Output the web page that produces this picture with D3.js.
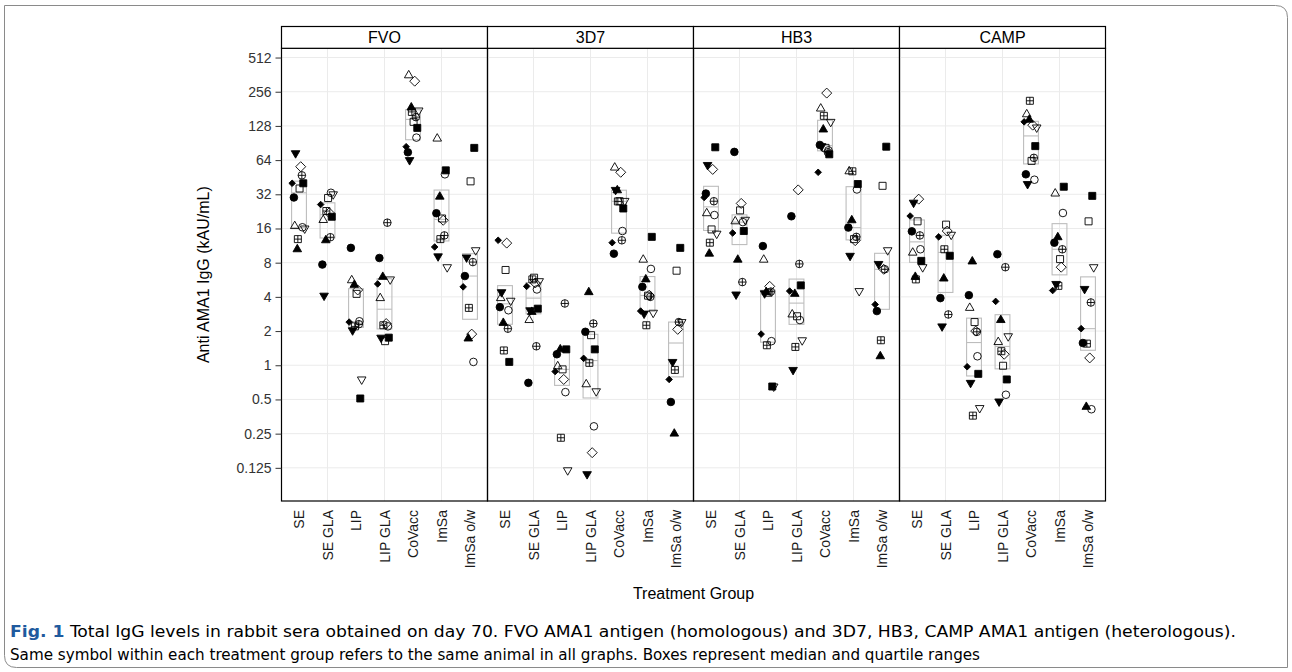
<!DOCTYPE html>
<html><head><meta charset="utf-8">
<script src="https://cdn.jsdelivr.net/npm/d3@7"></script>
<style>
html,body{margin:0;padding:0;background:#fff;}
svg{display:block;font-family:"Liberation Sans",Arial,Helvetica,sans-serif;}
</style></head>
<body>
<svg id="chart" width="1292" height="672"></svg>
<script>
// ---------- data ----------
const panels = ["FVO", "3D7", "HB3", "CAMP"];
const groups = ["SE", "SE GLA", "LIP", "LIP GLA", "CoVacc", "ImSa", "ImSa o/w"];
// animal symbols (same symbol = same animal within a treatment group)
const animals = ["dot", "circle", "sqFill", "square", "triUpFill", "triUp", "triDnFill", "triDn", "diaFill", "diamond", "circlePlus", "squarePlus"];
const yTicks = [0.125, 0.25, 0.5, 1, 2, 4, 8, 16, 32, 64, 128, 256, 512];
const yTickLabels = ["0.125", "0.25", "0.5", "1", "2", "4", "8", "16", "32", "64", "128", "256", "512"];

// values per group, in the order of `animals`; null = no animal
const fvo = [
  [30, 16.4, 40, 36, 10.5, 16.8, 73.6, 16, 40, 56, 47, 12.9],
  [7.7, 33, 20.3, 29.7, 12.6, 19, 4.1, 32, 26, 22, 13.4, 22.8],
  [10.8, 2.44, 0.51, 4.25, 5.1, 5.6, 2.03, 0.75, 2.4, 4.6, 2.3, 2.2],
  [8.8, 2.2, 1.75, 1.63, 6.0, 3.9, 1.75, 5.7, 5.2, 2.33, 18, 2.25],
  [75, 101, 123, 139, 186, 357, 64, 175, 84, 317, 153, 170],
  [21.8, 48, 52, 19.6, 30.5, 99, 9.1, 7.3, 11, 18.9, 13.9, 12.9],
  [6.1, 1.07, 82, 41.6, 1.72, null, 8.9, 10.3, 4.9, 1.88, 8.1, 3.2]
];
const d3d7 = [
  [3.25, 3.05, 1.07, 6.9, 2.36, 3.9, 4.4, 3.7, 12.6, 11.9, 2.1, 1.35],
  [0.7, 4.65, 3.15, 5.9, 2.95, 2.5, 3.05, 5.5, 4.95, 5.3, 1.47, 5.7],
  [1.25, 0.58, 1.38, 0.92, 1.38, 0.98, null, 0.119, 0.88, 0.75, 3.5, 0.23],
  [1.97, 0.29, 1.38, 1.84, 4.4, 0.68, 0.11, 0.59, 1.15, 0.17, 2.33, 1.05],
  [9.6, 15.2, 24, 27.8, 34.7, 55, 35, 28, 12, 50, 12.6, 27.7],
  [4.9, 7.05, 13.5, 4.1, 5.7, 8.5, 2.85, 2.9, 3.0, 4.14, 4.0, 2.25],
  [0.475, null, 10.8, 6.8, 0.25, null, 1.07, 2.4, 0.75, 2.07, 2.4, 0.91]
];
const hb3 = [
  [32.5, 21, 83, 15.7, 9.6, 21.8, 58, 14.4, 30, 53, 27.8, 12],
  [75.6, 18.2, 15.2, 23.1, 8.5, 18.5, 4.2, 19.1, 14.6, 26.6, 5.4, null],
  [11.2, 1.63, 0.65, 4.35, 4.4, 8.5, 4.3, 0.65, 1.88, 4.95, 4.45, 1.5],
  [20.5, 2.5, 5.05, 2.7, 4.25, 2.8, 0.91, 1.66, 4.5, 35, 7.8, 1.45],
  [87, 78, 72, 82, 119, 182, 85, 139, 50, 249, 75, 157],
  [16.3, 35.3, 39.4, 12.9, 18.9, 51, 9.2, 4.5, null, 12.5, 13.5, 51],
  [3.0, null, 84, 38, 1.2, null, 7.8, 10.3, 3.43, 7.0, 7.0, 1.66]
];
const camp = [
  [15.1, 10.5, 8.3, 18.5, 6.0, 9.8, 27, 7.3, 20.6, 29, 13.9, 5.7],
  [3.9, null, 9.2, 17.3, 5.8, null, 2.2, 14.1, 13.5, 15.2, 2.8, 10.5],
  [4.14, 1.2, 0.84, 2.4, 8.2, 3.2, 0.7, 0.42, 0.97, 2.0, 1.97, 0.36],
  [9.5, 0.55, 0.75, 0.99, 2.5, 1.6, 0.48, 1.8, 3.65, 1.25, 7.3, 1.33],
  [48, 43, 85, 63, 145, 162, 39.4, 124, 139, 130, 67, 213],
  [12, 21.9, 37.3, 8.6, 13.4, 32.5, 5.2, null, 4.55, 7.3, 10.5, 5.0],
  [1.57, 0.41, 31, 18.5, 0.43, null, 4.7, 7.3, 2.1, 1.16, 3.57, 1.55]
];
const panelValues = [fvo, d3d7, hb3, camp];

// ---------- layout / style ----------
const plotLeft = 281.5, panelW = 206, plotTop = 48.3, plotBottom = 501, stripTop = 26.5;
const gridColor = "#ebebeb", boxColor = "#bdbdbd";
// fixed horizontal spread per animal (fraction of category step)
const animalSpread = [-0.18, 0.12, 0.15, 0.02, -0.06, -0.15, -0.12, 0.2, -0.24, 0.06, 0.1, -0.04];

const svg = d3.select("#chart");

// outer frame
const fx0 = 4.5, fy0 = 5.5, fx1 = 1287.5, fy1 = 667.5, rr = 12;
svg.append("path")
  .attr("d", `M${fx0},${fy0} H${fx1 - rr} Q${fx1},${fy0} ${fx1},${fy0 + rr} V${fy1} H${fx0 + rr} Q${fx0},${fy1} ${fx0},${fy1 - rr} Z`)
  .attr("fill", "none").attr("stroke", "#8a8a8a").attr("stroke-width", 1);

const y = d3.scaleLog().base(2).domain([Math.pow(2, -3.97), Math.pow(2, 9.27)]).range([plotBottom, plotTop]);
const xBand = d3.scalePoint().domain(groups).range([0, panelW]).padding(0.614);
const step = xBand.step();

function symPath(k) {
  const r = 3.8, h = 3.5, s = 8.6, th = s * Math.sqrt(3) / 2;
  const circ = `M${r},0A${r},${r} 0 1,1 ${-r},0A${r},${r} 0 1,1 ${r},0Z`;
  const sq = `M${-h},${-h}H${h}V${h}H${-h}Z`;
  switch (k) {
    case "dot": case "circle": return circ;
    case "sqFill": case "square": return sq;
    case "triUpFill": case "triUp": return `M0,${-th * 2 / 3}L${s / 2},${th / 3}L${-s / 2},${th / 3}Z`;
    case "triDnFill": case "triDn": return `M0,${th * 2 / 3}L${s / 2},${-th / 3}L${-s / 2},${-th / 3}Z`;
    case "diaFill": { const d = 3.3; return `M0,${-d}L${d},0L0,${d}L${-d},0Z`; }
    case "diamond": { const d = 5; return `M0,${-d}L${d},0L0,${d}L${-d},0Z`; }
    case "circlePlus": return circ + `M${-r},0H${r}M0,${-r}V${r}`;
    case "squarePlus": return sq + `M${-h},0H${h}M0,${-h}V${h}`;
  }
}
const filled = new Set(["dot", "sqFill", "triUpFill", "triDnFill", "diaFill"]);

panels.forEach((pname, pi) => {
  const x0 = plotLeft + pi * panelW;
  const g = svg.append("g").attr("transform", `translate(${x0},0)`);
  // grid
  g.selectAll("line.hg").data(yTicks).enter().append("line")
    .attr("x1", 0).attr("x2", panelW)
    .attr("y1", d => y(d)).attr("y2", d => y(d))
    .attr("stroke", gridColor).attr("stroke-width", 1);
  g.selectAll("line.vg").data(groups.filter((d, i) => i % 2 === 1)).enter().append("line")
    .attr("x1", d => xBand(d)).attr("x2", d => xBand(d))
    .attr("y1", plotTop).attr("y2", plotBottom)
    .attr("stroke", gridColor).attr("stroke-width", 1);

  const vals = panelValues[pi];
  // boxes
  groups.forEach((gn, gi) => {
    const v = vals[gi].filter(d => d != null).sort(d3.ascending);
    const q1 = d3.quantile(v, 0.25), med = d3.quantile(v, 0.5), q3 = d3.quantile(v, 0.75);
    const cx = xBand(gn), bw = step * 0.26;
    g.append("rect").attr("x", cx - bw).attr("width", 2 * bw)
      .attr("y", y(q3)).attr("height", y(q1) - y(q3))
      .attr("fill", "none").attr("stroke", boxColor).attr("stroke-width", 1.1);
    g.append("line").attr("x1", cx - bw).attr("x2", cx + bw)
      .attr("y1", y(med)).attr("y2", y(med))
      .attr("stroke", boxColor).attr("stroke-width", 1.1);
  });
  // points
  groups.forEach((gn, gi) => {
    const pts = vals[gi].map((v, ai) => ({ v, ai })).filter(d => d.v != null);
    g.selectAll(null).data(pts).enter().append("path")
      .attr("transform", d => `translate(${xBand(gn) + animalSpread[d.ai] * step},${y(d.v)})`)
      .attr("d", d => symPath(animals[d.ai]))
      .attr("fill", d => filled.has(animals[d.ai]) ? "#000" : "none")
      .attr("stroke", "#000").attr("stroke-width", 0.9);
  });
  // panel border + strip
  g.append("rect").attr("x", 0).attr("y", plotTop).attr("width", panelW).attr("height", plotBottom - plotTop)
    .attr("fill", "none").attr("stroke", "#000").attr("stroke-width", 1.2);
  g.append("rect").attr("x", 0).attr("y", stripTop).attr("width", panelW).attr("height", plotTop - stripTop)
    .attr("fill", "#fff").attr("stroke", "#000").attr("stroke-width", 1.2);
  g.append("text").attr("x", panelW / 2).attr("y", (stripTop + plotTop) / 2).attr("dy", "0.36em")
    .attr("text-anchor", "middle").attr("font-size", 16).attr("fill", "#000").text(pname);
  // x labels
  g.selectAll("text.xl").data(groups).enter().append("text")
    .attr("transform", d => `translate(${xBand(d)},${plotBottom + 9}) rotate(-90)`)
    .attr("dy", "0.36em").attr("text-anchor", "end")
    .attr("font-size", 14).attr("fill", "#1a1a1a").text(d => d);
});

// y axis
const yAxis = d3.axisLeft(y).tickValues(yTicks).tickFormat((d, i) => yTickLabels[i]).tickSize(6).tickPadding(4);
const ya = svg.append("g").attr("transform", `translate(${plotLeft},0)`).call(yAxis);
ya.select(".domain").remove();
ya.selectAll("text").attr("font-size", 14).attr("fill", "#333").attr("font-family", "Liberation Sans, Arial, sans-serif");
ya.selectAll("line").attr("stroke", "#333");

svg.append("text").attr("transform", `translate(209,${(plotTop + plotBottom) / 2}) rotate(-90)`)
  .attr("text-anchor", "middle").attr("font-size", 16).attr("fill", "#000")
  .text("Anti AMA1 IgG (kAU/mL)");
svg.append("text").attr("x", plotLeft + 2 * panelW).attr("y", 599)
  .attr("text-anchor", "middle").attr("font-size", 16).attr("fill", "#000")
  .text("Treatment Group");

// caption
const capFont = "'Liberation Sans Narrow','DejaVu Sans Condensed','Roboto Condensed',sans-serif";
const c1 = svg.append("text").attr("x", 10).attr("y", 637).attr("font-size", 15.5)
  .attr("font-family", capFont).attr("textLength", 1226).attr("lengthAdjust", "spacingAndGlyphs");
c1.append("tspan").attr("font-weight", "bold").attr("fill", "#1f5a9e").text("Fig. 1");
c1.append("tspan").attr("fill", "#000").text(" Total IgG levels in rabbit sera obtained on day 70. FVO AMA1 antigen (homologous) and 3D7, HB3, CAMP AMA1 antigen (heterologous).");
svg.append("text").attr("x", 10).attr("y", 660).attr("font-size", 15.5)
  .attr("font-family", capFont).attr("textLength", 970).attr("lengthAdjust", "spacingAndGlyphs")
  .attr("fill", "#000")
  .text("Same symbol within each treatment group refers to the same animal in all graphs. Boxes represent median and quartile ranges");
</script>
</body></html>
